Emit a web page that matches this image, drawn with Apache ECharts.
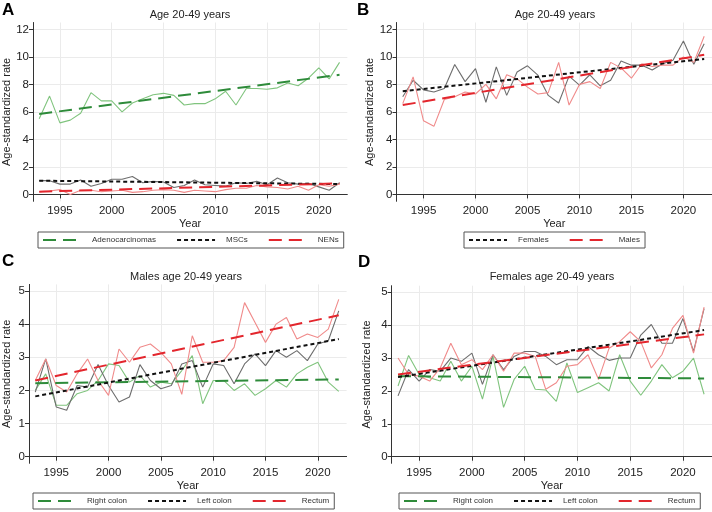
<!DOCTYPE html>
<html>
<head>
<meta charset="utf-8">
<script src="https://cdn.jsdelivr.net/npm/echarts@6/dist/echarts.min.js"></script>
<style>html,body{margin:0;padding:0;background:#fff}#c{width:712px;height:512px}</style>
</head>
<body>
<div id="c"></div>
<script>
const years = [1993,1994,1995,1996,1997,1998,1999,2000,2001,2002,2003,2004,2005,2006,2007,2008,2009,2010,2011,2012,2013,2014,2015,2016,2017,2018,2019,2020,2021,2022];
const trendYears = [1993, 2022];
const xTicks = [1995, 2000, 2005, 2010, 2015, 2020];
const yTicksAB = [0, 2, 4, 6, 8, 10, 12];
const yTicksCD = [0, 1, 2, 3, 4, 5];

// Panel A
const adeno = [5.5,7.15,5.2,5.4,5.9,7.4,6.8,6.8,6.0,6.65,6.95,7.25,7.35,7.2,6.5,6.6,6.6,6.95,7.5,6.5,7.7,7.7,7.65,7.75,8.1,7.9,8.45,9.2,8.4,9.6];
const mscs = [1.0,1.0,0.75,0.75,1.05,0.6,0.8,1.1,1.1,1.3,0.85,0.95,0.9,0.5,0.65,1.05,0.7,0.65,0.6,0.85,0.8,0.95,0.7,1.2,0.85,0.75,0.8,0.55,0.3,0.85];
const nens = [0.2,0.25,0.35,0.0,0.3,0.3,0.2,0.25,0.3,0.15,0.2,0.3,0.35,0.3,0.15,0.3,0.25,0.2,0.35,0.45,0.45,0.65,0.55,0.5,0.4,0.6,0.3,0.7,0.6,0.75];
const adenoTrend = [5.85, 8.7];
const mscsTrend = [1.0, 0.75];
const nensTrend = [0.2, 0.8];

// Panel B
const females = [7.1,8.3,7.6,7.45,7.7,9.45,8.2,9.15,6.7,9.27,7.2,8.9,9.35,8.67,7.2,6.65,8.6,7.95,8.7,7.9,8.3,9.7,9.4,9.4,9.05,9.5,9.75,11.15,9.47,10.95];
const males = [6.6,8.55,5.35,4.95,6.9,7.1,7.45,7.3,8.0,6.95,8.7,8.4,7.8,7.3,7.4,9.6,6.5,8.0,8.2,7.7,9.6,9.2,8.45,9.5,9.3,9.4,9.4,10.0,9.6,11.5];
const femalesTrend = [7.5, 9.85];
const malesTrend = [6.5, 10.15];

// Panel C (males)
const mRight = [2.0,2.5,1.55,1.55,1.9,2.0,2.3,2.8,2.75,2.25,2.45,2.1,2.25,2.2,2.6,3.05,1.6,2.3,2.3,2.0,2.2,1.85,2.05,2.3,2.1,2.5,2.7,2.85,2.25,1.97];
const mLeft = [1.95,2.95,1.5,1.4,2.15,2.1,2.78,2.15,1.65,1.8,2.78,2.3,2.05,2.15,2.8,2.9,2.1,2.8,2.75,2.2,2.8,3.1,2.75,3.2,3.0,3.2,2.9,3.4,3.5,4.4];
const mRectum = [2.3,2.95,2.15,1.95,2.5,2.95,2.3,1.85,3.25,2.85,3.3,3.4,3.15,2.8,1.88,3.65,2.85,2.85,2.9,3.3,4.65,4.05,3.45,4.0,4.2,3.55,3.7,3.6,3.85,4.75];
const mRightTrend = [2.22, 2.33];
const mLeftTrend = [1.82, 3.55];
const mRectumTrend = [2.3, 4.27];

// Panel D (females)
const fRight = [2.15,3.08,2.5,2.4,2.3,2.9,2.3,2.75,1.75,3.05,1.5,2.35,2.75,2.05,2.03,1.68,2.85,1.95,2.1,2.25,2.0,3.1,2.3,1.87,2.3,2.8,2.4,2.6,3.0,1.9];
const fLeft = [1.85,2.65,2.3,2.65,2.6,3.0,2.9,3.15,2.2,3.1,2.65,3.05,3.2,3.2,3.05,2.8,2.95,2.95,3.35,3.1,2.93,3.0,3.0,3.7,4.02,3.45,3.45,4.2,3.2,4.5];
const fRectum = [3.0,2.5,2.45,2.3,2.7,3.45,2.8,2.95,2.65,3.1,2.6,3.15,3.15,3.05,2.05,2.25,2.75,2.8,3.1,2.35,3.3,3.5,3.8,3.5,2.7,3.1,3.9,4.3,3.15,4.55];
const fRightTrend = [2.45, 2.38];
const fLeftTrend = [2.42, 3.85];
const fRectumTrend = [2.5, 3.72];

const C_GREEN_OBS = '#80c47e', C_GREEN = '#2e8b3a';
const C_GRAY_OBS = '#6e6e6e', C_BLACK = '#111111';
const C_PINK_OBS = '#f08a8a', C_RED = '#e3262d';
const DASH_LONG = [13, 7], DASH_SHORT = [4, 3];
const FONT = 'Liberation Sans, Arial, sans-serif';

const pair = (xs, ys) => xs.map((x, i) => [x, ys[i]]);

const grids = [
  {left: 31.7, top: 22.5, width: 315.6, height: 178.8},
  {left: 396.5, top: 22.5, width: 317, height: 178.8},
  {left: 27, top: 284.4, width: 319.6, height: 178.9},
  {left: 391.7, top: 285.7, width: 321.7, height: 177.6}
];

function xAxis(i) {
  return {
    type: 'value', gridIndex: i, min: 1992.4, max: 2022.75,
    name: 'Year', nameLocation: 'middle', nameGap: 16,
    nameTextStyle: {fontSize: 11, color: '#222', fontFamily: FONT},
    axisLine: {show: true, lineStyle: {color: '#333', width: 1}},
    axisTick: {show: true, length: 4, customValues: xTicks, lineStyle: {color: '#333'}},
    axisLabel: {customValues: xTicks, fontSize: 11.5, color: '#222', margin: 4, fontFamily: FONT, formatter: v => String(v)},
    splitLine: {show: true, lineStyle: {color: '#ebebeb', width: 1}}
  };
}
function yAxis(i, min, max, ticks) {
  return {
    type: 'value', gridIndex: i, min: min, max: max,
    name: 'Age-standardized rate', nameLocation: 'middle', nameGap: i === 0 ? 21 : (i === 2 ? 17 : 19),
    nameTextStyle: {fontSize: 11, color: '#222', fontFamily: FONT},
    axisLine: {show: true, lineStyle: {color: '#333', width: 1}},
    axisTick: {show: true, length: 4, customValues: ticks, lineStyle: {color: '#333'}},
    axisLabel: {customValues: ticks, fontSize: 11.5, color: '#222', margin: 4, fontFamily: FONT},
    splitLine: {show: true, lineStyle: {color: '#ebebeb', width: 1}}
  };
}

function obs(name, idx, ys, color) {
  return {name: name, type: 'line', xAxisIndex: idx, yAxisIndex: idx, data: pair(years, ys),
    showSymbol: false, symbol: 'none', lineStyle: {color: color, width: 1.1}, itemStyle: {color: color}, z: 2, silent: true};
}
function trend(name, idx, ys, color, dash) {
  return {name: name, type: 'line', xAxisIndex: idx, yAxisIndex: idx, data: pair(trendYears, ys),
    showSymbol: false, symbol: 'none', lineStyle: {color: color, width: 2, type: dash}, itemStyle: {color: color}, z: 3, silent: true};
}

const series = [
  obs('a_adeno', 0, adeno, C_GREEN_OBS), obs('a_mscs', 0, mscs, C_GRAY_OBS), obs('a_nens', 0, nens, C_PINK_OBS),
  trend('Adenocarcinomas', 0, adenoTrend, C_GREEN, DASH_LONG), trend('MSCs', 0, mscsTrend, C_BLACK, DASH_SHORT), trend('NENs', 0, nensTrend, C_RED, DASH_LONG),
  obs('b_f', 1, females, C_GRAY_OBS), obs('b_m', 1, males, C_PINK_OBS),
  trend('Females', 1, femalesTrend, C_BLACK, DASH_SHORT), trend('Males', 1, malesTrend, C_RED, DASH_LONG),
  obs('c_r', 2, mRight, C_GREEN_OBS), obs('c_l', 2, mLeft, C_GRAY_OBS), obs('c_re', 2, mRectum, C_PINK_OBS),
  trend('Right colon', 2, mRightTrend, C_GREEN, DASH_LONG), trend('Left colon', 2, mLeftTrend, C_BLACK, DASH_SHORT), trend('Rectum', 2, mRectumTrend, C_RED, DASH_LONG),
  obs('d_r', 3, fRight, C_GREEN_OBS), obs('d_l', 3, fLeft, C_GRAY_OBS), obs('d_re', 3, fRectum, C_PINK_OBS),
  trend('Right colon ', 3, fRightTrend, C_GREEN, DASH_LONG), trend('Left colon ', 3, fLeftTrend, C_BLACK, DASH_SHORT), trend('Rectum ', 3, fRectumTrend, C_RED, DASH_LONG)
];

function legend(names, left, top, gap) {
  return {
    data: names, left: left, top: top, orient: 'horizontal', selectedMode: false,
    itemWidth: 38, itemHeight: 8, itemGap: gap,
    itemStyle: {opacity: 0},
    borderColor: '#555', borderWidth: 1, borderRadius: 0, padding: [4, 5, 4, 4],
    textStyle: {fontSize: 8, color: '#333', fontFamily: FONT, padding: [0, 0, 0, 6]},
    formatter: n => n.trim()
  };
}

const titleStyle = {fontSize: 11, fontWeight: 'normal', color: '#222', fontFamily: FONT};
const letterStyle = {fontSize: 17, fontWeight: 'bold', color: '#000', fontFamily: FONT};

const option = {
  animation: false,
  backgroundColor: '#fff',
  title: [
    {text: 'A', left: 2, top: 2, textStyle: letterStyle, padding: 0},
    {text: 'B', left: 357, top: 2, textStyle: letterStyle, padding: 0},
    {text: 'C', left: 2, top: 253, textStyle: letterStyle, padding: 0},
    {text: 'D', left: 358, top: 254, textStyle: letterStyle, padding: 0},
    {text: 'Age 20-49 years', left: 190, top: 9, textAlign: 'center', textStyle: titleStyle, padding: 0},
    {text: 'Age 20-49 years', left: 555, top: 9, textAlign: 'center', textStyle: titleStyle, padding: 0},
    {text: 'Males age 20-49 years', left: 186, top: 271, textAlign: 'center', textStyle: titleStyle, padding: 0},
    {text: 'Females age 20-49 years', left: 552, top: 271, textAlign: 'center', textStyle: titleStyle, padding: 0}
  ],
  grid: grids,
  xAxis: [xAxis(0), xAxis(1), xAxis(2), xAxis(3)],
  yAxis: [yAxis(0, -0.5, 12.5, yTicksAB), yAxis(1, -0.5, 12.5, yTicksAB), yAxis(2, -0.2, 5.2, yTicksCD), yAxis(3, -0.2, 5.2, yTicksCD)],
  legend: [
    legend(['Adenocarcinomas', 'MSCs', 'NENs'], 38, 232, 20),
    legend(['Females', 'Males'], 464, 232, 20),
    legend(['Right colon', 'Left colon', 'Rectum'], 33, 493, 20),
    legend(['Right colon ', 'Left colon ', 'Rectum '], 399, 493, 20)
  ],
  series: series
};

const chart = echarts.init(document.getElementById('c'), null, {renderer: 'canvas'});
chart.setOption(option);
</script>
</body>
</html>
